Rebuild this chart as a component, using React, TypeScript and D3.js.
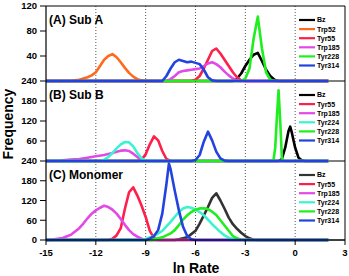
import React from 'react'
import * as d3 from 'd3'

type Pt = [number, number]

// x values (ln Rate) and frequencies
const xTicks = [-15, -12, -9, -6, -3, 0, 3]
const guideLines = [-12, -9, -6, -3, 0]

// (A) Sub A
const aBz: Pt[] = [[-3.75, 0], [-3.5, 4], [-3.25, 12], [-3, 24], [-2.75, 34], [-2.5, 42], [-2.25, 45], [-2, 32], [-1.75, 18], [-1.5, 8], [-1.25, 2], [-1, 0]]
const aTrp52: Pt[] = [[-13.5, 0], [-13.25, 1], [-13, 2], [-12.75, 4], [-12.5, 6], [-12.25, 9], [-12, 14], [-11.75, 24], [-11.5, 34], [-11.25, 40], [-11, 43], [-10.75, 38], [-10.5, 30], [-10.25, 21], [-10, 13], [-9.75, 7], [-9.5, 3], [-9.25, 1], [-9, 0]]
const aTyr55: Pt[] = [[-6.25, 0], [-6, 2], [-5.75, 8], [-5.5, 20], [-5.25, 34], [-5, 48], [-4.75, 52], [-4.5, 44], [-4.25, 34], [-4, 24], [-3.75, 14], [-3.5, 6], [-3.25, 1], [-3, 0]]
const aTrp185: Pt[] = [[-7.75, 0], [-7.5, 3], [-7.25, 8], [-7, 14], [-6.75, 16], [-6.5, 17], [-6.25, 18], [-6, 19], [-5.75, 20], [-5.5, 24], [-5.25, 28], [-5, 30], [-4.75, 27], [-4.5, 22], [-4.25, 15], [-4, 9], [-3.75, 4], [-3.5, 1], [-3.25, 0]]
const aTyr228: Pt[] = [[-3.25, 0], [-3, 4], [-2.75, 20], [-2.5, 68], [-2.25, 103], [-2, 52], [-1.75, 14], [-1.5, 2], [-1.25, 0]]
const aTyr314: Pt[] = [[-8, 0], [-7.75, 8], [-7.5, 20], [-7.25, 30], [-7, 34], [-6.75, 32], [-6.5, 30], [-6.25, 31], [-6, 29], [-5.75, 27], [-5.5, 18], [-5.25, 6], [-5, 1], [-4.75, 0]]

// (B) Sub B
const bBz: Pt[] = [[-1, 0], [-0.8, 6], [-0.6, 40], [-0.4, 90], [-0.3, 103], [-0.2, 85], [0, 40], [0.2, 10], [0.4, 2], [0.6, 0]]
const bTyr55: Pt[] = [[-9.5, 0], [-9.25, 4], [-9, 20], [-8.75, 50], [-8.5, 74], [-8.25, 62], [-8, 30], [-7.75, 6], [-7.5, 0]]
const bTrp185: Pt[] = [[-14.25, 0], [-14, 2], [-13.5, 4], [-13, 6], [-12.5, 10], [-12, 14], [-11.5, 18], [-11, 24], [-10.75, 28], [-10.5, 31], [-10.25, 32], [-10, 30], [-9.75, 22], [-9.5, 12], [-9.25, 5], [-9, 1], [-8.75, 0]]
const bTyr224: Pt[] = [[-11.75, 0], [-11.5, 4], [-11.25, 12], [-11, 24], [-10.75, 38], [-10.5, 50], [-10.25, 57], [-10, 56], [-9.75, 44], [-9.5, 24], [-9.25, 8], [-9, 1], [-8.75, 0]]
const bTyr228: Pt[] = [[-1.4, 0], [-1.3, 4], [-1.2, 40], [-1.1, 130], [-1, 212], [-0.9, 120], [-0.8, 10], [-0.7, 0]]
const bTyr314: Pt[] = [[-6.25, 0], [-6, 3], [-5.75, 18], [-5.5, 58], [-5.25, 88], [-5, 62], [-4.75, 28], [-4.5, 8], [-4.25, 1], [-4, 0]]

// (C) Monomer
const cBz: Pt[] = [[-7.25, 0], [-7, 2], [-6.5, 8], [-6, 28], [-5.75, 50], [-5.5, 75], [-5.25, 100], [-5, 128], [-4.75, 142], [-4.5, 120], [-4.25, 95], [-4, 68], [-3.75, 48], [-3.5, 34], [-3.25, 22], [-3, 12], [-2.75, 5], [-2.5, 1], [-2.25, 0]]
const cTyr55: Pt[] = [[-11.25, 0], [-11, 4], [-10.75, 14], [-10.5, 36], [-10.25, 95], [-10, 145], [-9.75, 160], [-9.5, 135], [-9.25, 105], [-9, 70], [-8.75, 28], [-8.5, 6], [-8.25, 0]]
const cTrp185: Pt[] = [[-14.75, 0], [-14.5, 2], [-14, 6], [-13.5, 16], [-13, 36], [-12.75, 50], [-12.5, 66], [-12.25, 80], [-12, 90], [-11.75, 98], [-11.5, 104], [-11.25, 100], [-11, 92], [-10.75, 80], [-10.5, 64], [-10.25, 46], [-10, 30], [-9.75, 18], [-9.5, 10], [-9.25, 4], [-9, 1], [-8.75, 0]]
const cTyr224: Pt[] = [[-9.25, 0], [-9, 3], [-8.5, 12], [-8, 28], [-7.5, 55], [-7, 85], [-6.75, 96], [-6.5, 100], [-6.25, 98], [-6, 92], [-5.75, 85], [-5.5, 75], [-5.25, 62], [-5, 48], [-4.75, 36], [-4.5, 24], [-4.25, 14], [-4, 7], [-3.75, 3], [-3.5, 0]]
const cTyr228: Pt[] = [[-8.75, 0], [-8.5, 2], [-8, 8], [-7.5, 20], [-7.25, 30], [-7, 45], [-6.75, 62], [-6.5, 75], [-6.25, 85], [-6, 92], [-5.75, 96], [-5.5, 96], [-5.25, 94], [-5, 86], [-4.75, 76], [-4.5, 60], [-4.25, 44], [-4, 28], [-3.75, 12], [-3.5, 5], [-3.25, 1], [-3, 0]]
const cTyr314: Pt[] = [[-9, 0], [-8.75, 4], [-8.5, 12], [-8.25, 30], [-8, 80], [-7.75, 170], [-7.6, 232], [-7.5, 215], [-7.25, 150], [-7, 90], [-6.75, 40], [-6.5, 12], [-6.25, 2], [-6, 0]]

const colors: Record<string, string> = {
  Bz: '#000000',
  Trp52: '#ff6a1e',
  Tyr55: '#ff1f4b',
  Trp185: '#e24ae8',
  Tyr224: '#3cf2cf',
  Tyr228: '#1fee1f',
  Tyr314: '#2243e0',
}

const panels = [
  {
    label: '(A) Sub A',
    max: 120,
    ticks: [40, 80, 120],
    series: [['Bz', aBz], ['Trp52', aTrp52], ['Tyr55', aTyr55], ['Trp185', aTrp185], ['Tyr228', aTyr228], ['Tyr314', aTyr314]] as [string, Pt[]][],
  },
  {
    label: '(B) Sub B',
    max: 240,
    ticks: [60, 120, 180, 240],
    series: [['Bz', bBz], ['Tyr55', bTyr55], ['Trp185', bTrp185], ['Tyr224', bTyr224], ['Tyr228', bTyr228], ['Tyr314', bTyr314]] as [string, Pt[]][],
  },
  {
    label: '(C) Monomer',
    max: 240,
    ticks: [0, 60, 120, 180, 240],
    series: [['Bz', cBz], ['Tyr55', cTyr55], ['Trp185', cTrp185], ['Tyr224', cTyr224], ['Tyr228', cTyr228], ['Tyr314', cTyr314]] as [string, Pt[]][],
  },
]

const W = 349
const H = 276
const left = 46
const right = 345
const bounds = [6, 81, 161, 240]
const font = 'Liberation Sans, Arial, sans-serif'

export default function App() {
  const x = d3.scaleLinear().domain([-15, 3]).range([left, right])
  // zero-padded histogram range
  const pad = (pts: Pt[]): Pt[] => [[-15, 0], ...pts, [2, 0]]

  return (
    <svg width={W} height={H} style={{ position: 'absolute', left: 0, top: 0, background: '#fff' }}>
      {panels.map((p, i) => {
        const top = bounds[i]
        const bottom = bounds[i + 1]
        const y = d3.scaleLinear().domain([0, p.max]).range([bottom, top])
        const line = d3
          .line<Pt>()
          .x((d) => x(d[0]))
          .y((d) => y(d[1]))
        return (
          <g key={p.label}>
            {guideLines.map((g) => (
              <line key={g} x1={x(g)} x2={x(g)} y1={top} y2={bottom} stroke="#444" strokeWidth={0.9} strokeDasharray="1 2" />
            ))}
            <line x1={left} x2={right} y1={bottom} y2={bottom} stroke="#000" strokeWidth={1} />
            {p.series.map(([name, pts]) => (
              <path key={name} d={line(pad(pts)) || ''} fill="none" stroke={name === 'Bz' && i === 2 ? '#333' : colors[name]} strokeWidth={2.6} strokeLinejoin="round" />
            ))}
            {p.ticks.map((t) => (
              <g key={t}>
                <line x1={left - 6} x2={left} y1={y(t)} y2={y(t)} stroke="#000" strokeWidth={1} />
                <text x={left - 9} y={y(t)} dy="0.35em" textAnchor="end" fontFamily={font} fontWeight="bold" fontSize={9.5}>
                  {t}
                </text>
              </g>
            ))}
            <text x={49} y={top + 17.5} fontFamily={font} fontWeight="bold" fontSize={12}>
              {p.label}
            </text>
            {p.series.map(([name], j) => {
              const ly = top + 14 + j * 9.1
              return (
                <g key={name}>
                  <line x1={299} x2={315} y1={ly} y2={ly} stroke={name === 'Bz' && i === 2 ? '#333' : colors[name]} strokeWidth={2.2} />
                  <text x={317} y={ly} dy="0.35em" fontFamily={font} fontWeight="bold" fontSize={7}>
                    {name}
                  </text>
                </g>
              )
            })}
          </g>
        )
      })}
      {/* frame */}
      <line x1={left} x2={left} y1={bounds[0]} y2={bounds[3]} stroke="#000" strokeWidth={1.2} />
      <line x1={right} x2={right} y1={bounds[0]} y2={bounds[3]} stroke="#000" strokeWidth={1} />
      <line x1={left} x2={right} y1={bounds[0]} y2={bounds[0]} stroke="#000" strokeWidth={1} />
      <line x1={left} x2={right} y1={bounds[3]} y2={bounds[3]} stroke="#000" strokeWidth={1.2} />
      {xTicks.map((t) => (
        <g key={t}>
          <line x1={x(t)} x2={x(t)} y1={bounds[3]} y2={bounds[3] + 5} stroke="#000" strokeWidth={1} />
          <text x={x(t)} y={255.5} textAnchor="middle" fontFamily={font} fontWeight="bold" fontSize={9.5}>
            {t}
          </text>
        </g>
      ))}
      <text x={196} y={273} textAnchor="middle" fontFamily={font} fontWeight="bold" fontSize={14}>
        ln Rate
      </text>
      <text transform="translate(13,124) rotate(-90)" textAnchor="middle" fontFamily={font} fontWeight="bold" fontSize={14}>
        Frequency
      </text>
    </svg>
  )
}
